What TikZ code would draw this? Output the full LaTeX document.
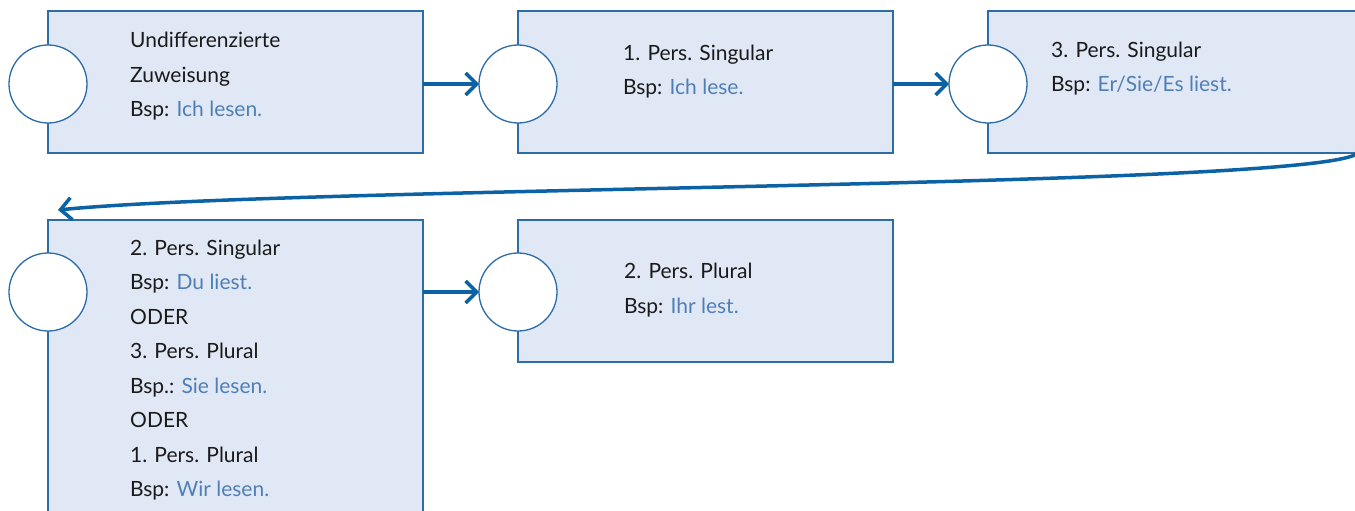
\documentclass[tikz,border=0pt]{standalone}
\usepackage{fontspec}
\setmainfont{Lato}
\usetikzlibrary{arrows.meta}
\definecolor{boxfill}{HTML}{E0E8F5}
\definecolor{boxline}{HTML}{2C6DA8}
\definecolor{arrcol}{HTML}{0B62A4}
\definecolor{exblue}{HTML}{4F7FB6}
\definecolor{txt}{HTML}{1A1A1A}
\tikzset{
  stepbox/.style={draw=boxline, fill=boxfill, line width=1.3pt, rectangle, anchor=north west,
    minimum width=375pt, minimum height=142pt, inner sep=0pt, outer sep=0pt},
  dot/.style={draw=boxline, fill=white, line width=1.3pt, circle, minimum size=78pt, inner sep=0pt, outer sep=0pt},
  lbl/.style={anchor=base west, inner sep=0pt, font=\fontsize{21}{23}\selectfont, text=txt},
  arr/.style={draw=arrcol, line width=3.5pt, -{Straight Barb[length=11pt,width=22pt]}},
}
\newcommand{\ex}[1]{\textcolor{exblue}{#1}}
\begin{document}
\begin{tikzpicture}[x=1pt,y=-1pt]
\useasboundingbox (0,0) rectangle (1355,511);
\clip (0,0) rectangle (1355,511);
\fill[white] (0,0) rectangle (1355,511);
% boxes
\node[stepbox] (b1) at (48,11) {};
\node[stepbox] (b2) at (518,11) {};
\node[stepbox, minimum width=412pt] (b3) at (988,11) {};
\node[stepbox, minimum height=310pt] (b4) at (48,220) {};
\node[stepbox] (b5) at (518,220) {};
% circles
\node[dot] (c1) at (48,84) {};
\node[dot] (c2) at (518,84) {};
\node[dot] (c3) at (988,84) {};
\node[dot] (c4) at (48,292) {};
\node[dot] (c5) at (518,292) {};
% texts box 1
\node[lbl] (t1a) at (130,48) {Undifferenzierte};
\node[lbl] (t1b) at (130,82.5) {Zuweisung};
\node[lbl] (t1c) at (130,117) {Bsp: \ex{Ich lesen.}};
% box 2
\node[lbl] (t2a) at (623,60) {1. Pers. Singular};
\node[lbl] (t2b) at (623,94.5) {Bsp: \ex{Ich lese.}};
% box 3
\node[lbl] (t3a) at (1051,58) {3. Pers. Singular};
\node[lbl] (t3b) at (1051,92) {Bsp: \ex{Er/Sie/Es liest.}};
% box 4
\node[lbl] (t4a) at (130,255) {2. Pers. Singular};
\node[lbl] (t4b) at (130,289.5) {Bsp: \ex{Du liest.}};
\node[lbl] (t4c) at (130,324) {ODER};
\node[lbl] (t4d) at (130,358.5) {3. Pers. Plural};
\node[lbl] (t4e) at (130,393) {Bsp.: \ex{Sie lesen.}};
\node[lbl] (t4f) at (130,427.5) {ODER};
\node[lbl] (t4g) at (130,462) {1. Pers. Plural};
\node[lbl] (t4h) at (130,496.5) {Bsp: \ex{Wir lesen.}};
% box 5
\node[lbl] (t5a) at (624,278) {2. Pers. Plural};
\node[lbl] (t5b) at (624,313.5) {Bsp: \ex{Ihr lest.}};
% arrows
\draw[arr] (b1.east |- c2.west) -- (c2.west);
\draw[arr] (b2.east |- c3.west) -- (c3.west);
\draw[arr] (b4.east |- c5.west) -- (c5.west);
\coordinate (cs) at (1358,153);
\coordinate (ce) at (58,210);
\draw[arr] (cs) .. controls (1320,188) and (300,186) .. (ce);
\end{tikzpicture}
\end{document}
